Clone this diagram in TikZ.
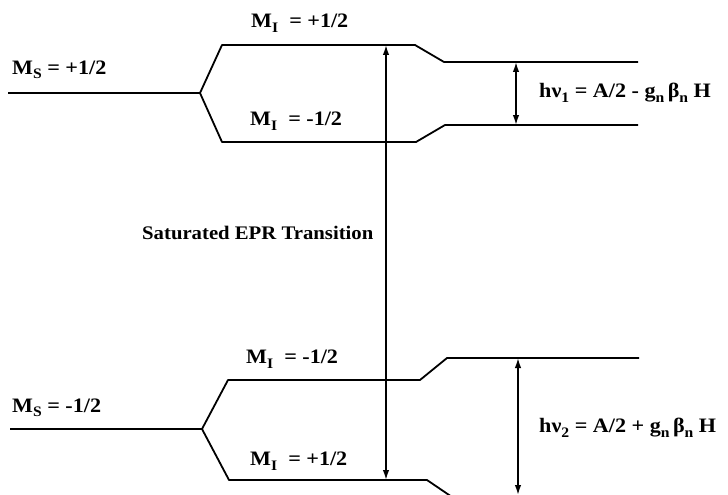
\documentclass[tikz,border=0pt]{standalone}
\usepackage{fontspec}
\setmainfont{Liberation Serif}[FakeStretch=1.08]
\usetikzlibrary{arrows.meta}
\newcommand{\sbs}[1]{\raisebox{-0.22em}{\fontsize{14.5}{14.5}\selectfont #1}}
\begin{document}
\begin{tikzpicture}[x=1pt,y=-1pt,
  lvl/.style={line width=1.8pt, line join=round},
  trans/.style={line width=1.6pt, {Latex[length=10pt,width=6.5pt]}-{Latex[length=10pt,width=6.5pt]}},
  lab/.style={font=\bfseries\fontsize{20.5}{22}\selectfont, inner sep=0pt, anchor=west},
  satlab/.style={font=\bfseries\fontsize{19.2}{22}\selectfont, inner sep=0pt, anchor=west}]
\useasboundingbox (0,0) rectangle (728,495);
% upper manifold
\coordinate (a0) at (8,93);
\coordinate (a1) at (200,93);
\coordinate (au1) at (222,45);
\coordinate (au2) at (415,45);
\coordinate (au3) at (444,62);
\coordinate (au4) at (638,62);
\coordinate (al1) at (222,142);
\coordinate (al2) at (416,142);
\coordinate (al3) at (445,125);
\coordinate (al4) at (638,125);
\draw[lvl] (a0) -- (a1) -- (au1) -- (au2) -- (au3) -- (au4);
\draw[lvl] (a1) -- (al1) -- (al2) -- (al3) -- (al4);
% lower manifold
\coordinate (b0) at (10,429);
\coordinate (b1) at (202,429);
\coordinate (bu1) at (228,380);
\coordinate (bu2) at (420,380);
\coordinate (bu3) at (447,358);
\coordinate (bu4) at (639,358);
\coordinate (bl1) at (229,480);
\coordinate (bl2) at (427,480);
\coordinate (bl3) at (452,497);
\coordinate (bl4) at (639,497);
\draw[lvl] (b0) -- (b1) -- (bu1) -- (bu2) -- (bu3) -- (bu4);
\draw[lvl] (b1) -- (bl1) -- (bl2) -- (bl3) -- (bl4);
% transitions
\coordinate (s1) at (386,45);
\coordinate (s2) at (386,480);
\coordinate (r1) at (516,62);
\coordinate (r2) at (516,125);
\coordinate (q1) at (518,358);
\coordinate (q2) at (518,495);
\draw[trans] (s1) -- (s2);
\draw[trans] (r1) -- (r2);
\draw[trans] (q1) -- (q2);
% labels
\node[lab] (ms1) at (12,70) {M\sbs{S} = +1/2};
\node[lab] (mi1) at (251,23) {M\sbs{I}\ \ = +1/2};
\node[lab] (mi2) at (250,121) {M\sbs{I}\ \ = -1/2};
\node[satlab] (sat) at (142,233) {Saturated EPR Transition};
\node[lab] (mi3) at (246,359) {M\sbs{I}\ \ = -1/2};
\node[lab] (ms2) at (12,408) {M\sbs{S} = -1/2};
\node[lab] (mi4) at (250,461) {M\sbs{I}\ \ = +1/2};
\node[lab] (h1) at (539,93) {hν\sbs{1}\ = A/2 - g\sbs{n}\,β\sbs{n}\ H};
\node[lab] (h2) at (539,428) {hν\sbs{2}\ = A/2 + g\sbs{n}\,β\sbs{n}\ H};
\end{tikzpicture}
\end{document}
